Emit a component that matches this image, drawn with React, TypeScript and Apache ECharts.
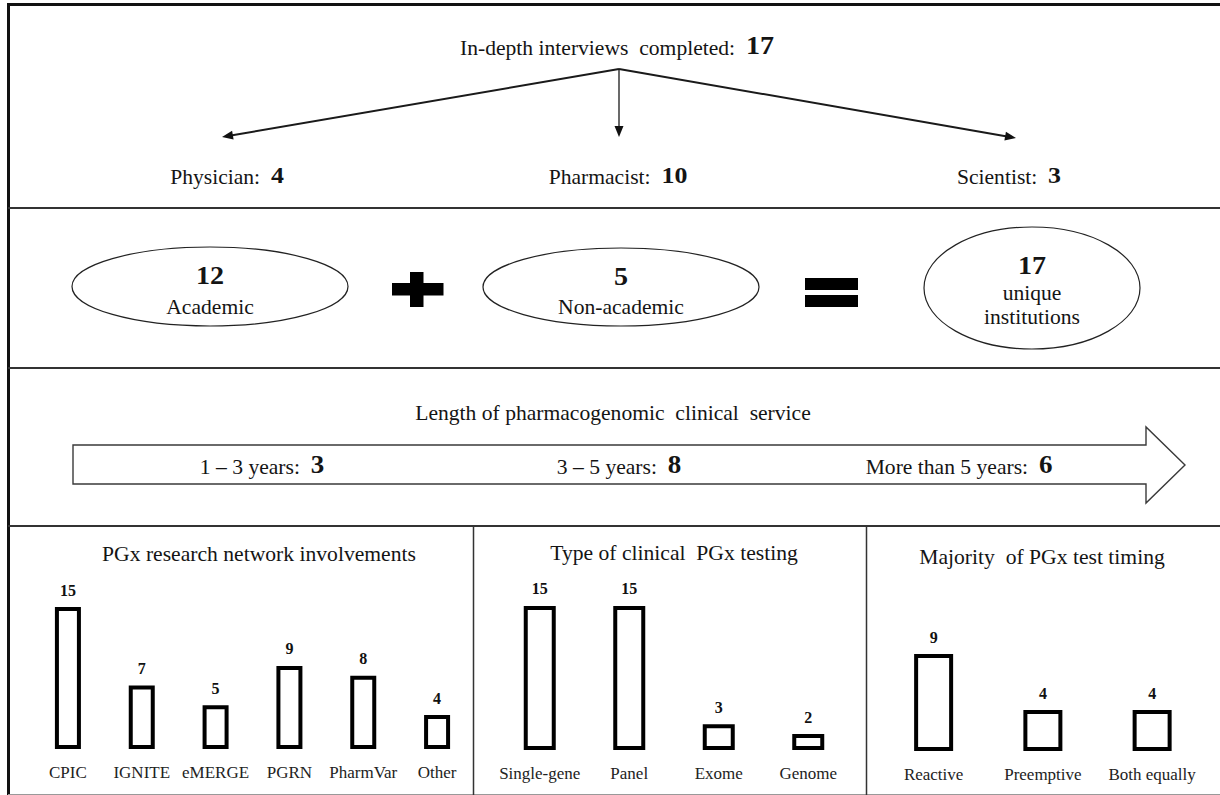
import React, { useEffect, useRef } from 'react';
import * as echarts from 'echarts';

const FONT = 'Liberation Serif';
const INK = '#141414';

// ---- data ----
const interviewsTitle = 'In-depth interviews  completed:';
const interviewsTotal = 17;
const roleLabels = ['Physician', 'Pharmacist', 'Scientist'];
const roleValues = [4, 10, 3];
const institutionLabels = ['Academic', 'Non-academic'];
const institutionValues = [12, 5];
const institutionTotal = 17;
const institutionTotalLabel = ['unique', 'institutions'];
const durationTitle = 'Length of pharmacogenomic  clinical  service';
const durationLabels = ['1 \u2013 3 years', '3 \u2013 5 years', 'More than 5 years'];
const durationValues = [3, 8, 6];

const panelTitles = ['PGx research network involvements', 'Type of clinical  PGx testing', 'Majority  of PGx test timing'];
const networkCategories = ['CPIC', 'IGNITE', 'eMERGE', 'PGRN', 'PharmVar', 'Other'];
const networkValues = [15, 7, 5, 9, 8, 4];
const testTypeCategories = ['Single-gene', 'Panel', 'Exome', 'Genome'];
const testTypeValues = [15, 15, 3, 2];
const timingCategories = ['Reactive', 'Preemptive', 'Both equally'];
const timingValues = [9, 4, 4];

// ---- layout (positions only) ----
const panels = [
  { cats: networkCategories, vals: networkValues, left: 31, width: 443, base: 749, k: 9.82, min: 0.54, max: 16, bw: 26 },
  { cats: testTypeCategories, vals: testTypeValues, left: 495, width: 358, base: 750, k: 9.85, min: 0.376, max: 16, bw: 32 },
  { cats: timingCategories, vals: timingValues, left: 879, width: 327.75, base: 751, k: 11.2, min: 0.34, max: 10, bw: 39 },
];
const panelTitlePos = [[259, 554], [674, 553], [1042, 557]];
const SX = 1.08;

function txt(x: number, y: number, text: string, size: number, bold = false, sx = SX) {
  return {
    type: 'text', x, y, z: 10, scaleX: sx,
    style: { text, x: 0, y: 0, align: 'center', verticalAlign: 'middle', fontFamily: FONT, fontSize: size, fontWeight: bold ? 'bold' : 'normal', fill: INK },
  };
}
function rich(x: number, y: number, label: string, num: number, size: number, numSize: number, sx = SX) {
  return {
    type: 'text', x, y, z: 10, scaleX: sx,
    style: {
      text: `{a|${label}  }{b|${num}}`, x: 0, y: 0, align: 'center', verticalAlign: 'middle', fontFamily: FONT, fill: INK,
      rich: {
        a: { fontFamily: FONT, fontSize: size, fill: INK, color: INK, verticalAlign: 'bottom' },
        b: { fontFamily: FONT, fontSize: numSize, fontWeight: 'bold', fill: INK, color: INK, verticalAlign: 'bottom' },
      },
    },
  };
}
function line(x1: number, y1: number, x2: number, y2: number, w: number, c = '#222') {
  return { type: 'line', z: 5, shape: { x1, y1, x2, y2 }, style: { stroke: c, lineWidth: w } };
}
function arrow(x1: number, y1: number, x2: number, y2: number, w: number) {
  const dx = x2 - x1, dy = y2 - y1, L = Math.hypot(dx, dy);
  const ux = dx / L, uy = dy / L, len = 11, half = 4.5;
  const bx = x2 - ux * len, by = y2 - uy * len;
  return [
    line(x1, y1, bx + ux * 2, by + uy * 2, w, '#1a1a1a'),
    { type: 'polygon', z: 5, shape: { points: [[x2, y2], [bx - uy * half, by + ux * half], [bx + uy * half, by - ux * half]] }, style: { fill: '#111' } },
  ];
}

export default function App() {
  const ref = useRef<HTMLDivElement>(null);
  useEffect(() => {
    document.body.style.margin = '0';
    const chart = echarts.init(ref.current!, null, { renderer: 'svg' });

    const origin = [619, 69];
    const tips = [[222, 137], [619, 137], [1016, 138]];
    const rolePos = [[227, 175], [618, 175], [1009, 175]];
    const ellipses = [
      { cx: 210, cy: 286.5, rx: 138, ry: 39.5 },
      { cx: 621, cy: 287, rx: 138, ry: 39 },
      { cx: 1032, cy: 288, rx: 108, ry: 61 },
    ];
    const durPos = [[262, 465], [619, 465], [959, 465]];

    const graphic: any[] = [
      // frame and dividers
      line(7, 4.5, 1220, 4.5, 3, '#111'),
      line(8.5, 3, 8.5, 795, 3, '#111'),
      line(8, 794.5, 1220, 794.5, 1, '#999'),
      line(8, 208, 1220, 208, 2, '#333'),
      line(8, 368, 1220, 368, 2, '#333'),
      line(8, 526, 1220, 526, 2, '#333'),
      line(473.5, 526, 473.5, 795, 1.5, '#333'),
      line(866.5, 526, 866.5, 795, 1.5, '#333'),
      // top section
      rich(617, 45, interviewsTitle, interviewsTotal, 20, 26),
      ...tips.flatMap((t, i) => arrow(origin[0], origin[1], t[0], t[1], i === 1 ? 1.3 : 2)),
      ...roleLabels.map((l, i) => rich(rolePos[i][0], rolePos[i][1], l + ':', roleValues[i], 20, 24)),
      // institutions
      ...ellipses.map((e) => ({ type: 'ellipse', z: 4, shape: e, style: { fill: '#fff', stroke: '#222', lineWidth: 1.2 } })),
      txt(210, 275, String(institutionValues[0]), 26, true),
      txt(210, 307, institutionLabels[0], 20),
      txt(621, 276, String(institutionValues[1]), 26, true),
      txt(621, 307, institutionLabels[1], 20),
      txt(1032, 265, String(institutionTotal), 26, true),
      txt(1032, 293, institutionTotalLabel[0], 20),
      txt(1032, 317, institutionTotalLabel[1], 20),
      { type: 'rect', z: 4, shape: { x: 410, y: 272, width: 13.5, height: 35 }, style: { fill: '#000' } },
      { type: 'rect', z: 4, shape: { x: 392, y: 283, width: 51.5, height: 12.5 }, style: { fill: '#000' } },
      { type: 'rect', z: 4, shape: { x: 805, y: 278, width: 53, height: 12 }, style: { fill: '#000' } },
      { type: 'rect', z: 4, shape: { x: 805, y: 295, width: 53, height: 12 }, style: { fill: '#000' } },
      // duration arrow
      txt(613, 413, durationTitle, 20),
      {
        type: 'polygon', z: 4,
        shape: { points: [[73, 445], [1146, 445], [1146, 427], [1185, 465], [1146, 503], [1146, 484], [73, 484]] },
        style: { fill: '#fff', stroke: '#3a3a3a', lineWidth: 1.4 },
      },
      ...durationLabels.map((l, i) => rich(durPos[i][0], durPos[i][1], l + ':', durationValues[i], 20, 25)),
      // panel titles
      ...panelTitles.map((t, i) => txt(panelTitlePos[i][0], panelTitlePos[i][1], t, 21, false, 1.03)),
    ];

    const option: any = {
      animation: false,
      backgroundColor: '#fff',
      textStyle: { fontFamily: FONT },
      grid: panels.map((p) => ({ left: p.left, width: p.width, top: p.base - (p.max - p.min) * p.k, height: (p.max - p.min) * p.k })),
      xAxis: panels.map((p, i) => ({
        type: 'category', gridIndex: i, data: p.cats,
        axisLine: { show: false }, axisTick: { show: false },
        axisLabel: { interval: 0, margin: 15, fontFamily: FONT, fontSize: 17, color: '#222' },
      })),
      yAxis: panels.map((p, i) => ({ type: 'value', gridIndex: i, min: p.min, startValue: p.min, max: p.max, show: false, splitLine: { show: false } })),
      series: panels.map((p, i) => ({
        type: 'bar', xAxisIndex: i, yAxisIndex: i, data: p.vals, barWidth: p.bw, clip: false,
        itemStyle: { color: '#fff', borderColor: '#000', borderWidth: 4 },
        label: { show: true, position: 'top', distance: 9, fontFamily: FONT, fontSize: 16, fontWeight: 'bold', color: '#111' },
        emphasis: { disabled: true },
      })),
      graphic,
    };
    chart.setOption(option);
    return () => chart.dispose();
  }, []);
  return <div ref={ref} style={{ width: 1220, height: 795, background: '#fff' }} />;
}
